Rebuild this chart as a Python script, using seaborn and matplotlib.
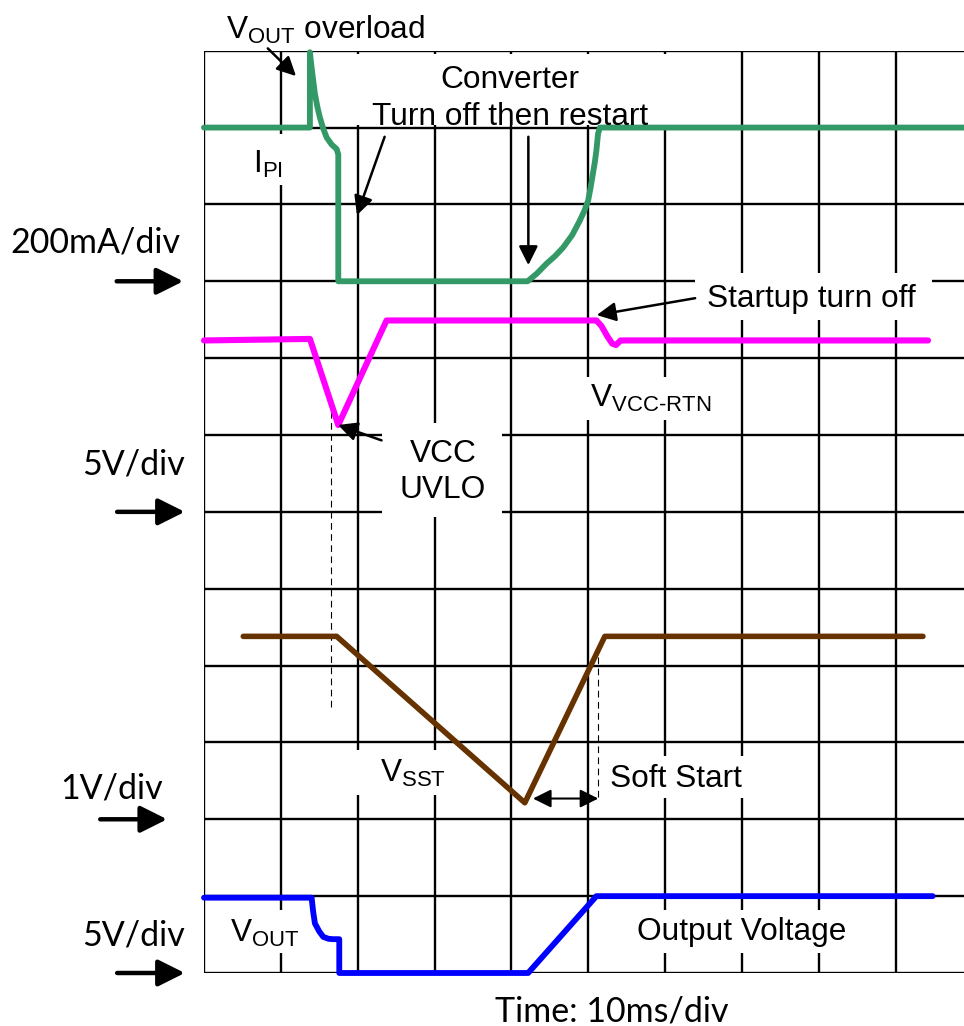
import matplotlib
matplotlib.use("Agg")
import matplotlib.pyplot as plt
from matplotlib.patches import Rectangle
import seaborn as sns

# Traces in grid divisions (x: 10ms/div, y: division index from bottom)
ipi_x = [0.0, 1.378, 1.378, 1.40, 1.425, 1.443, 1.475, 1.508, 1.55, 1.596, 1.66, 1.726, 1.747, 1.747,
         4.21, 4.33, 4.457, 4.57, 4.673, 4.79, 4.89, 4.95, 4.998, 5.03, 5.06, 5.085, 5.105, 5.127, 5.15, 9.9]
ipi_y = [11.0, 11.0, 11.98, 11.78, 11.58, 11.44, 11.27, 11.13, 10.99, 10.87, 10.78, 10.72, 10.65, 9.0,
         9.0, 9.1, 9.23, 9.33, 9.44, 9.6, 9.79, 9.92, 10.05, 10.22, 10.40, 10.55, 10.70, 10.92, 11.0, 11.0]

vcc_x = [0.0, 1.378, 1.747, 2.375, 5.105, 5.17, 5.25, 5.31, 5.36, 5.42, 9.42]
vcc_y = [8.23, 8.25, 7.13, 8.49, 8.49, 8.42, 8.28, 8.19, 8.17, 8.23, 8.23]

sst_x = [0.511, 1.726, 4.174, 5.215, 9.354]
sst_y = [4.38, 4.38, 2.215, 4.38, 4.38]

vout_x = [0.0, 1.40, 1.42, 1.443, 1.50, 1.552, 1.62, 1.683, 1.76, 1.76, 4.217, 5.105, 9.48]
vout_y = [0.98, 0.98, 0.80, 0.646, 0.54, 0.47, 0.445, 0.44, 0.44, 0.0, 0.0, 1.0, 1.0]

scale_labels = ["200mA/div", "5V/div", "1V/div", "5V/div"]
scale_levels = [9, 6, 2, 0]

sns.set_style("white")
plt.rcParams['font.family'] = ['Liberation Sans', 'DejaVu Sans']
plt.rcParams['text.color'] = 'black'
plt.rcParams['mathtext.fontset'] = 'custom'
plt.rcParams['mathtext.rm'] = 'Liberation Sans'

fig = plt.figure(figsize=(9.64, 10.26), dpi=100)
ax = fig.add_axes([204 / 964, 53 / 1026, 760 / 964, 922.3 / 1026])
ax.set_xlim(0, 760 / 76.86)
ax.set_ylim(0, 12)
ax.axis("off")

# grid
for k in range(10):
    ax.plot([k, k], [0, 12], color="black", lw=1.7, zorder=1, solid_capstyle="butt")
for k in range(13):
    ax.plot([0, 10], [k, k], color="black", lw=1.7, zorder=1, solid_capstyle="butt")

# white boxes behind labels
boxes = [
    (1.90, 11.03, 4.55, 0.93),   # converter
    (0.47, 10.25, 0.78, 0.67),   # I_PI
    (6.39, 8.50, 3.08, 0.61),    # startup turn off
    (4.92, 7.19, 1.60, 0.56),    # V_VCC-RTN
    (2.32, 5.93, 1.56, 1.23),    # VCC UVLO
    (1.90, 2.32, 1.24, 0.58),    # V_SST
    (5.15, 2.28, 1.95, 0.54),    # soft start
    (0.27, 0.26, 0.98, 0.56),    # V_OUT
    (5.54, 0.26, 2.93, 0.56),    # output voltage
]
for bx, by, bw, bh in boxes:
    ax.add_patch(Rectangle((bx, by), bw, bh, facecolor="white", edgecolor="none", zorder=2))

# dashed markers
ax.plot([1.65, 1.65], [3.46, 7.32], color="black", lw=0.8, ls=(0, (6, 4)), zorder=2.5)
ax.plot([5.13, 5.13], [2.29, 4.31], color="black", lw=0.8, ls=(0, (6, 4)), zorder=2.5)

# traces
sns.lineplot(x=ipi_x, y=ipi_y, sort=False, estimator=None, color="#339966", lw=4.2, ax=ax, zorder=3)
sns.lineplot(x=vcc_x, y=vcc_y, sort=False, estimator=None, color="#FF00FF", lw=4.4, ax=ax, zorder=3)
sns.lineplot(x=sst_x, y=sst_y, sort=False, estimator=None, color="#663300", lw=4.0, ax=ax, zorder=3)
sns.lineplot(x=vout_x, y=vout_y, sort=False, estimator=None, color="#0000FF", lw=4.2, ax=ax, zorder=3)
for line in ax.lines[-4:]:
    line.set_solid_capstyle("round")
    line.set_solid_joinstyle("round")
    line.set_clip_on(False)

arrow = dict(arrowstyle="-|>,head_length=0.5,head_width=0.25", color="black", lw=1.8,
             mutation_scale=23, shrinkA=0, shrinkB=0)
ax.annotate("", xy=(1.197, 11.67), xytext=(0.83, 12.03), arrowprops=arrow, annotation_clip=False, zorder=4)
ax.annotate("", xy=(1.99, 9.86), xytext=(2.35, 10.88), arrowprops=arrow, zorder=4)
ax.annotate("", xy=(4.22, 9.21), xytext=(4.22, 10.88), arrowprops=arrow, zorder=4)
ax.annotate("", xy=(5.11, 8.56), xytext=(6.39, 8.78), arrowprops=arrow, zorder=4)
ax.annotate("", xy=(1.745, 7.13), xytext=(2.31, 6.93), arrowprops=arrow, zorder=4)
ax.annotate("", xy=(4.28, 2.27), xytext=(5.13, 2.27),
            arrowprops=dict(arrowstyle="<|-|>,head_length=0.5,head_width=0.25", color="black", lw=1.5,
                            mutation_scale=22, shrinkA=0, shrinkB=0), zorder=4)

fs = 22.8
ax.text(0.286, 12.16, r"V$_{\mathrm{OUT}}$ overload", fontsize=fs, va="baseline", clip_on=False)
ax.text(3.98, 11.52, "Converter", fontsize=fs, ha="center", va="baseline", zorder=4)
ax.text(3.98, 11.03, "Turn off then restart", fontsize=fs, ha="center", va="baseline", zorder=4)
ax.text(0.64, 10.41, r"I$_{\mathrm{PI}}$", fontsize=fs, va="baseline", zorder=4)
ax.text(6.54, 8.67, "Startup turn off", fontsize=fs, va="baseline", zorder=4)
ax.text(5.02, 7.37, r"V$_{\mathrm{VCC\text{-}RTN}}$", fontsize=fs, va="baseline", zorder=4)
ax.text(3.11, 6.65, "VCC", fontsize=fs, ha="center", va="baseline", zorder=4)
ax.text(3.11, 6.18, "UVLO", fontsize=fs, ha="center", va="baseline", zorder=4)
ax.text(2.29, 2.49, r"V$_{\mathrm{SST}}$", fontsize=fs, va="baseline", zorder=4)
ax.text(5.28, 2.42, "Soft Start", fontsize=fs, va="baseline", zorder=4)
ax.text(0.34, 0.41, r"V$_{\mathrm{OUT}}$", fontsize=fs, va="baseline", zorder=4)
ax.text(5.63, 0.43, "Output Voltage", fontsize=fs, va="baseline", zorder=4)

# channel scale labels with arrows on the left
label_x = [-2.52, -1.58, -1.87, -1.59]
label_base = [9.38, 6.48, 2.27, 0.36]
arrow_x0 = [-1.136, -1.13, -1.35, -1.13]
arrow_x1 = [-0.27, -0.25, -0.48, -0.25]
big = dict(arrowstyle="-|>,head_length=0.9,head_width=0.45", color="black", lw=3.2,
           mutation_scale=18, shrinkA=0, shrinkB=0, capstyle="round")
for lab, lvl, lx, lb, a0, a1 in zip(scale_labels, scale_levels, label_x, label_base, arrow_x0, arrow_x1):
    ax.text(lx, lb, lab, fontsize=24.5, family="Lato", va="baseline", clip_on=False)
    ax.annotate("", xy=(a1, lvl), xytext=(a0, lvl), arrowprops=big, annotation_clip=False)

ax.text(3.79, -0.63, "Time: 10ms/div", fontsize=24.5, family="Lato", va="baseline", clip_on=False)

fig.savefig("out.png", dpi=100)
